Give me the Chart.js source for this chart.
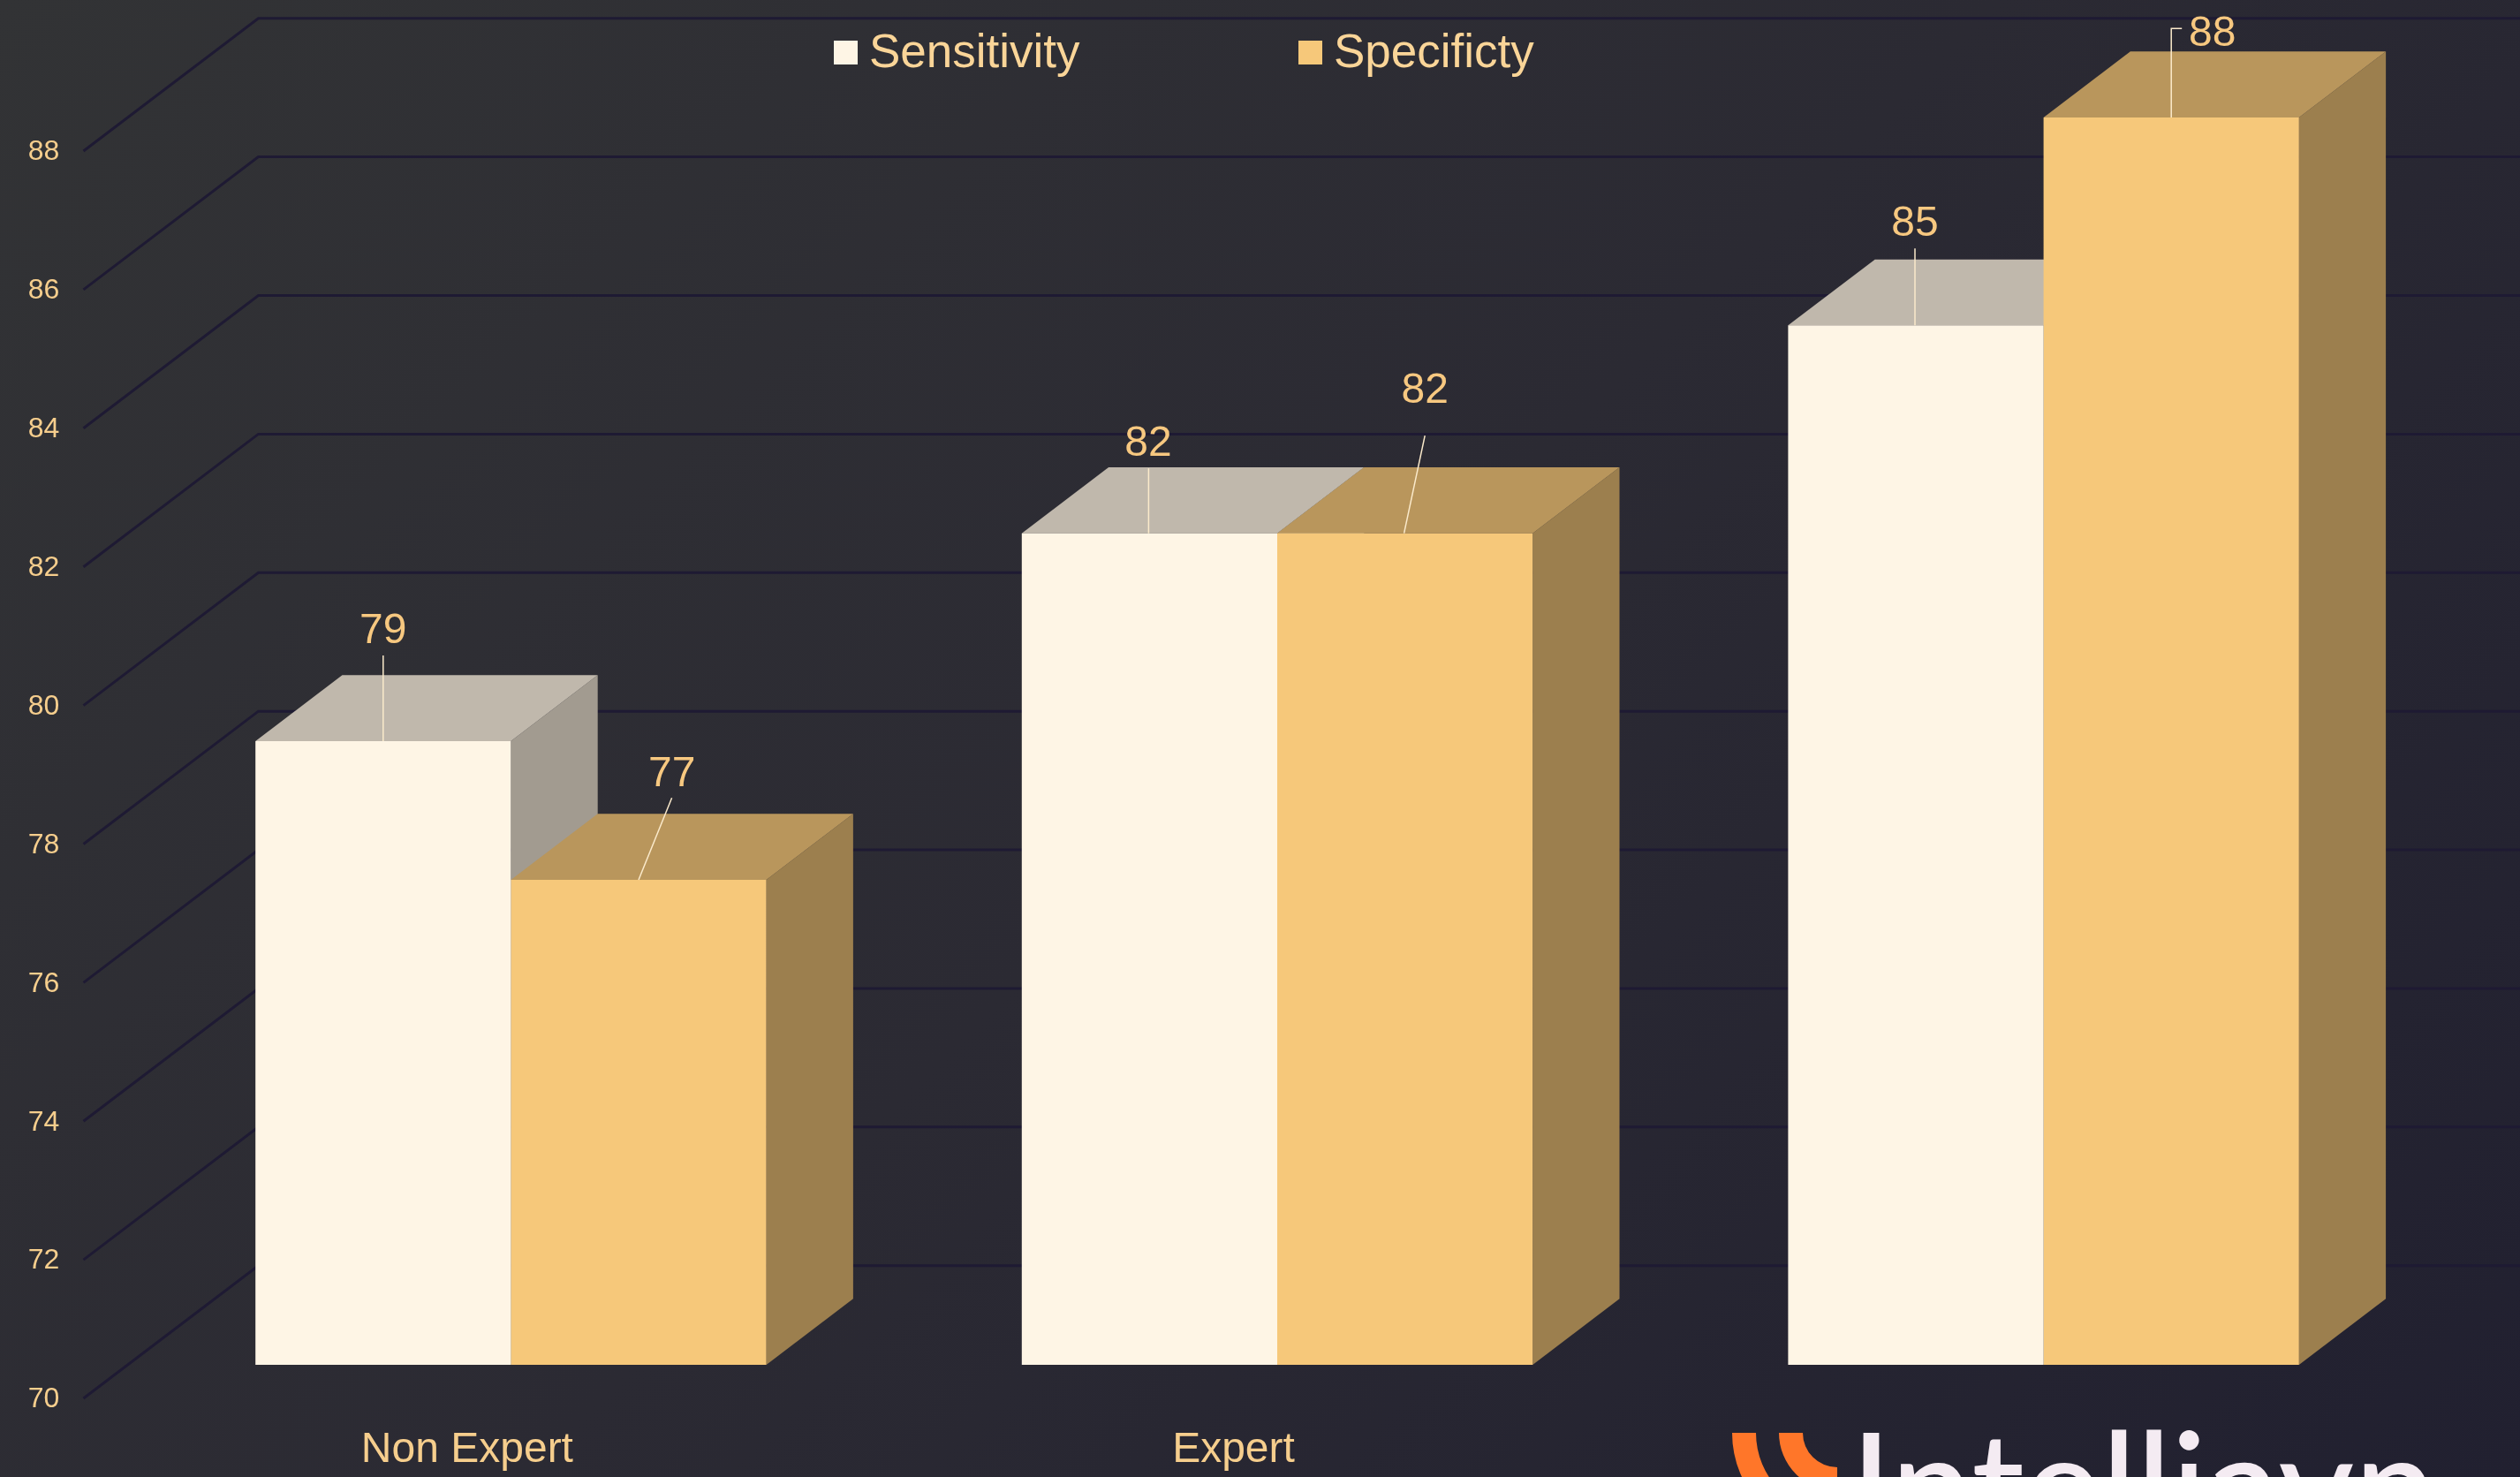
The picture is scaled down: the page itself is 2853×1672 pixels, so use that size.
<!DOCTYPE html>
<html>
<head>
<meta charset="utf-8">
<title>Sensitivity and Specificty</title>
<script src="https://cdn.jsdelivr.net/npm/chart.js@4"></script>
<style>
    html, body { margin: 0; padding: 0; background: #2b2a33; }
    canvas { display: block; }
</style>
</head>
<body>
<canvas id="bar-chart" width="2853" height="1672"></canvas>
<script>
const categories = ['Non Expert', 'Expert', '']
const sensitivity = [79, 82, 85]
const specificity = [77, 82, 88]
const y_ticks = [70, 72, 74, 76, 78, 80, 82, 84, 86, 88]

const font_family = '"Liberation Sans", Arial, sans-serif'
const label_color = '#f6ce8d'

// fake 3d: how far the bars and the floor reach back
const bar_depth = { x: 98.3, y: 74.7 }
const grid_front = { x: 94.5, y: 38 }
const grid_back = { x: 292.5, y: -112.3 }

// value label and its leader line, relative to the middle of the bar's front top edge
const sensitivity_labels = [
    { x: 0, y: -124, line: [[0, 0], [0, -97]] },
    { x: -1.5, y: -100.5, line: [[-1, 0], [-1, -73.5]] },
    { x: -1, y: -114.4, line: [[-1, 0], [-1, -87]] },
]
const specificity_labels = [
    { x: 37.8, y: -119, line: [[0, 0], [37.6, -92.7]] },
    { x: 22.6, y: -161.3, line: [[-1, 0], [22.6, -110.6]] },
    { x: 46.5, y: -94.5, line: [[0, 0], [0, -100.7], [12, -100.7]] },
]

const faces = [
    { top: '#c0b8ac', side: '#a29b90', labels: sensitivity_labels },
    { top: '#b9965c', side: '#9c7f4e', labels: specificity_labels },
]

function poly(ctx, points, color) {
    ctx.fillStyle = color
    ctx.beginPath()
    points.forEach(([x, y], i) => i ? ctx.lineTo(x, y) : ctx.moveTo(x, y))
    ctx.closePath()
    ctx.fill()
}

function no_axis_padding(scale) {
    scale.paddingTop = 0
    scale.paddingBottom = 0
    scale.paddingLeft = 0
    scale.paddingRight = 0
}

const background_plugin = {
    id: 'gradientBackground',
    beforeDraw: (chart) => {
        const { ctx, width, height } = chart
        const size = (width + height) / 2
        const gradient = ctx.createLinearGradient(0, 0, size, size)
        gradient.addColorStop(0, '#323335')
        gradient.addColorStop(0.5, '#2b2a33')
        gradient.addColorStop(1, '#212030')
        ctx.save()
        ctx.fillStyle = gradient
        ctx.fillRect(0, 0, width, height)
        ctx.restore()
    }
}

const depth_plugin = {
    id: 'depthFaces',
    beforeDatasetsDraw: (chart) => {
        const { ctx, width } = chart
        const y_scale = chart.scales.y
        ctx.save()

        // floor lines run back from the tick label, then across
        ctx.strokeStyle = '#1e1a33'
        ctx.lineWidth = 3
        y_ticks.forEach(value => {
            const y = y_scale.getPixelForValue(value)
            ctx.beginPath()
            ctx.moveTo(grid_front.x, y + grid_front.y)
            ctx.lineTo(grid_back.x, y + grid_back.y)
            ctx.lineTo(width, y + grid_back.y)
            ctx.stroke()
        })

        faces.forEach((face, index) => {
            chart.getDatasetMeta(index).data.forEach(bar => {
                const { x, y, base, width: w } = bar.getProps(['x', 'y', 'base', 'width'], true)
                const left = x - w / 2
                const right = x + w / 2
                poly(ctx, [
                    [right, y], [right + bar_depth.x, y - bar_depth.y],
                    [right + bar_depth.x, base - bar_depth.y], [right, base],
                ], face.side)
                poly(ctx, [
                    [left, y], [left + bar_depth.x, y - bar_depth.y],
                    [right + bar_depth.x, y - bar_depth.y], [right, y],
                ], face.top)
            })
        })
        ctx.restore()
    },
    afterDatasetsDraw: (chart) => {
        const { ctx } = chart
        ctx.save()
        ctx.font = '48px ' + font_family
        ctx.textAlign = 'center'
        ctx.textBaseline = 'middle'
        faces.forEach((face, index) => {
            const dataset = chart.data.datasets[index]
            chart.getDatasetMeta(index).data.forEach((bar, i) => {
                const { x, y } = bar.getProps(['x', 'y'], true)
                const spot = face.labels[i]
                ctx.strokeStyle = '#fbeacb'
                ctx.lineWidth = 1.5
                ctx.beginPath()
                spot.line.forEach(([dx, dy], j) => j ? ctx.lineTo(x + dx, y + dy) : ctx.moveTo(x + dx, y + dy))
                ctx.stroke()
                ctx.fillStyle = '#f7c880'
                ctx.fillText(dataset.data[i], x + spot.x, y + spot.y)
            })
        })
        ctx.restore()
    }
}

const legend_plugin = {
    id: 'topLegend',
    afterDraw: (chart) => {
        const { ctx } = chart
        const spots = [944, 1470]
        ctx.save()
        ctx.font = '53px ' + font_family
        ctx.textBaseline = 'alphabetic'
        chart.data.datasets.forEach((dataset, i) => {
            ctx.fillStyle = dataset.backgroundColor
            ctx.fillRect(spots[i], 46, 27, 27)
            ctx.fillStyle = '#fad598'
            ctx.fillText(dataset.label, spots[i] + 40, 76)
        })
        ctx.restore()
    }
}

// logo in the corner, cut off by the bottom of the picture
const logo_plugin = {
    id: 'cornerLogo',
    afterDraw: (chart) => {
        const { ctx } = chart
        ctx.save()
        ctx.fillStyle = '#ff7629'
        ;[[92, 119], [39, 66]].forEach(([inner, outer]) => {
            ctx.beginPath()
            ctx.arc(2080, 1622, outer, Math.PI / 2, Math.PI)
            ctx.arc(2080, 1622, inner, Math.PI, Math.PI / 2, true)
            ctx.closePath()
            ctx.fill()
        })
        ctx.fillStyle = '#f4ebf2'
        ctx.font = '500 168px Lato'
        ctx.textBaseline = 'alphabetic'
        const text = 'Intelliavn'
        const x_scale = 663 / ctx.measureText(text).width
        ctx.translate(2095, 1743)
        ctx.scale(x_scale, 1)
        ctx.fillText(text, 0, 0)
        ctx.restore()
    }
}

new Chart(document.getElementById('bar-chart'), {
    type: 'bar',
    data: {
        labels: categories,
        datasets: [
            { label: 'Sensitivity', data: sensitivity, base: 70, backgroundColor: '#fef5e5' },
            { label: 'Specificty', data: specificity, base: 70, backgroundColor: '#f6c87a' },
        ]
    },
    options: {
        responsive: false,
        animation: false,
        devicePixelRatio: 1,
        layout: { padding: { top: 0, right: 105.6, bottom: 0, left: 0 } },
        datasets: { bar: { categoryPercentage: 2 / 3, barPercentage: 1, borderWidth: 0 } },
        scales: {
            x: {
                offset: true,
                grid: { display: false },
                border: { display: false },
                afterFit: (scale) => {
                    scale.height = 72
                    no_axis_padding(scale)
                },
                ticks: {
                    color: label_color,
                    font: { family: font_family, size: 48 },
                    labelOffset: -49.5,
                    padding: 4.5,
                    maxRotation: 0,
                    autoSkip: false,
                }
            },
            y: {
                // the range runs past 70 and 88 so the chart area fills the canvas height
                min: 69.299,
                max: 89.696,
                grid: { display: false },
                border: { display: false },
                afterBuildTicks: (scale) => { scale.ticks = y_ticks.map(value => ({ value })) },
                afterFit: (scale) => {
                    scale.width = 144.6
                    no_axis_padding(scale)
                },
                ticks: {
                    color: label_color,
                    font: { family: font_family, size: 32 },
                    labelOffset: 39.5,
                    padding: 69.2,
                    autoSkip: false,
                }
            }
        },
        plugins: {
            legend: { display: false },
            tooltip: { enabled: false },
        }
    },
    plugins: [background_plugin, depth_plugin, legend_plugin, logo_plugin],
})
</script>
</body>
</html>
